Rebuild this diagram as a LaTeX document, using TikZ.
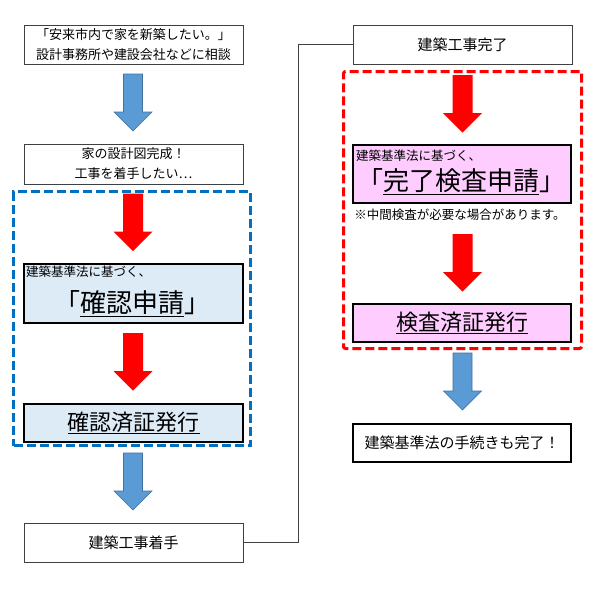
\documentclass[tikz,border=0pt]{standalone}
\usepackage{fontspec}
\setmainfont{Noto Sans CJK JP}
\usetikzlibrary{calc}
\definecolor{arrblue}{HTML}{5B9BD5}
\definecolor{arrblueedge}{HTML}{41719C}
\definecolor{dashblue}{HTML}{0070C0}
\definecolor{lightblue}{HTML}{DDEBF7}
\definecolor{lightpink}{HTML}{FFCCFF}
\definecolor{boxgray}{HTML}{404040}
\newcommand\fsA{\fontsize{13pt}{20pt}\selectfont}
\newcommand\fsS{\fontsize{12.5pt}{15pt}\selectfont}
\newcommand\fsL{\fontsize{26pt}{30pt}\selectfont}
\newcommand\fsM{\fontsize{22pt}{26pt}\selectfont}
\newcommand\fsB{\fontsize{15pt}{18pt}\selectfont}
\newcommand\myul[1]{\setbox0=\hbox{#1}\rlap{\rule[-0.16em]{\wd0}{1.2pt}}\box0}
\tikzset{
  thinbox/.style={draw=boxgray, line width=1pt, fill=white, minimum width=219pt,
    minimum height=39pt, inner sep=0pt, align=center, text=black},
  thickbox/.style={draw=black, line width=2pt, minimum width=219pt, inner sep=0pt,
    align=center, text=black},
  txt/.style={inner sep=0pt, text=black},
  bluegroup/.style={draw=dashblue, line width=3pt, dash pattern=on 9pt off 4pt,
    inner sep=0pt},
  redgroup/.style={draw=red, line width=3pt, dash pattern=on 9pt off 4pt,
    rounded corners=2pt, inner sep=0pt},
  link/.style={draw=boxgray, line width=1pt},
  pics/bluedown/.style={code={
    \draw[fill=arrblue, draw=arrblueedge, line width=0.6pt]
      (-9.5,0) -- (9.5,0) -- (9.5,38) -- (19,38) -- (0,57) -- (-19,38) -- (-9.5,38) -- cycle;}},
  pics/reddown/.style={code={
    \fill[red]
      (-10,0) -- (10,0) -- (10,38) -- (19.5,38) -- (0,57.5) -- (-19.5,38) -- (-10,38) -- cycle;}},
}
\begin{document}
\begin{tikzpicture}[x=1pt,y=-1pt]
\useasboundingbox[fill=white] (0,0) rectangle (600,598);

% group frames
\node[bluegroup, minimum width=237pt, minimum height=254pt] (g1) at (132,318.5) {};
\node[redgroup, minimum width=238pt, minimum height=277pt] (g2) at (462.5,210) {};

% left column
\node[thinbox, font=\fsA] (b1) at (133.5,44.5)
  {「安来市内で家を新築したい。」\\設計事務所や建設会社などに相談};
\node[thinbox, minimum height=40pt, font=\fsA] (b2) at (133.5,164)
  {家の設計図完成！\\工事を着手したい⋯};
\node[thickbox, fill=lightblue, minimum height=59pt] (b3) at (133.5,293.5) {};
\node[txt, anchor=west, font=\fsS] (b3a) at (26,271.5) {建築基準法に基づく、};
\node[txt, font=\fsL] (b3b) at (132,304) {「\myul{確認申請}」};
\node[thickbox, fill=lightblue, minimum height=38pt, font=\fsM] (b4) at (133.5,423)
  {\myul{確認済証発行}};
\node[thinbox, font=\fsB] (b5) at (133.5,542.5) {建築工事着手};

% right column
\node[thinbox, font=\fsB] (b6) at (462.5,44.5) {建築工事完了};
\node[thickbox, fill=lightpink, minimum width=218pt, minimum height=58pt] (b7) at (462,174) {};
\node[txt, anchor=west, font=\fsS] (b7a) at (356,155.5) {建築基準法に基づく、};
\node[txt, font=\fsL] (b7b) at (461,182) {「\myul{完了検査申請}」};
\node[txt, font=\fsS] (note) at (460,215) {※中間検査が必要な場合があります。};
\node[thickbox, fill=lightpink, minimum width=218pt, minimum height=38pt, font=\fsM] (b8) at (462,323)
  {\myul{検査済証発行}};
\node[thickbox, fill=white, minimum width=218pt, minimum height=38pt, font=\fsB] (b9) at (462,443)
  {建築基準法の手続きも完了！};

% block arrows
\pic at (133,74) {bluedown};
\pic at (133,193.5) {reddown};
\pic at (133,333) {reddown};
\pic at (133,453) {bluedown};
\pic at (462.5,75) {reddown};
\pic at (462.5,234) {reddown};
\pic at (462.5,353) {bluedown};

% connector
\draw[link] (b5.east) -- ++(55,0) |- (b6.west);
\end{tikzpicture}
\end{document}
